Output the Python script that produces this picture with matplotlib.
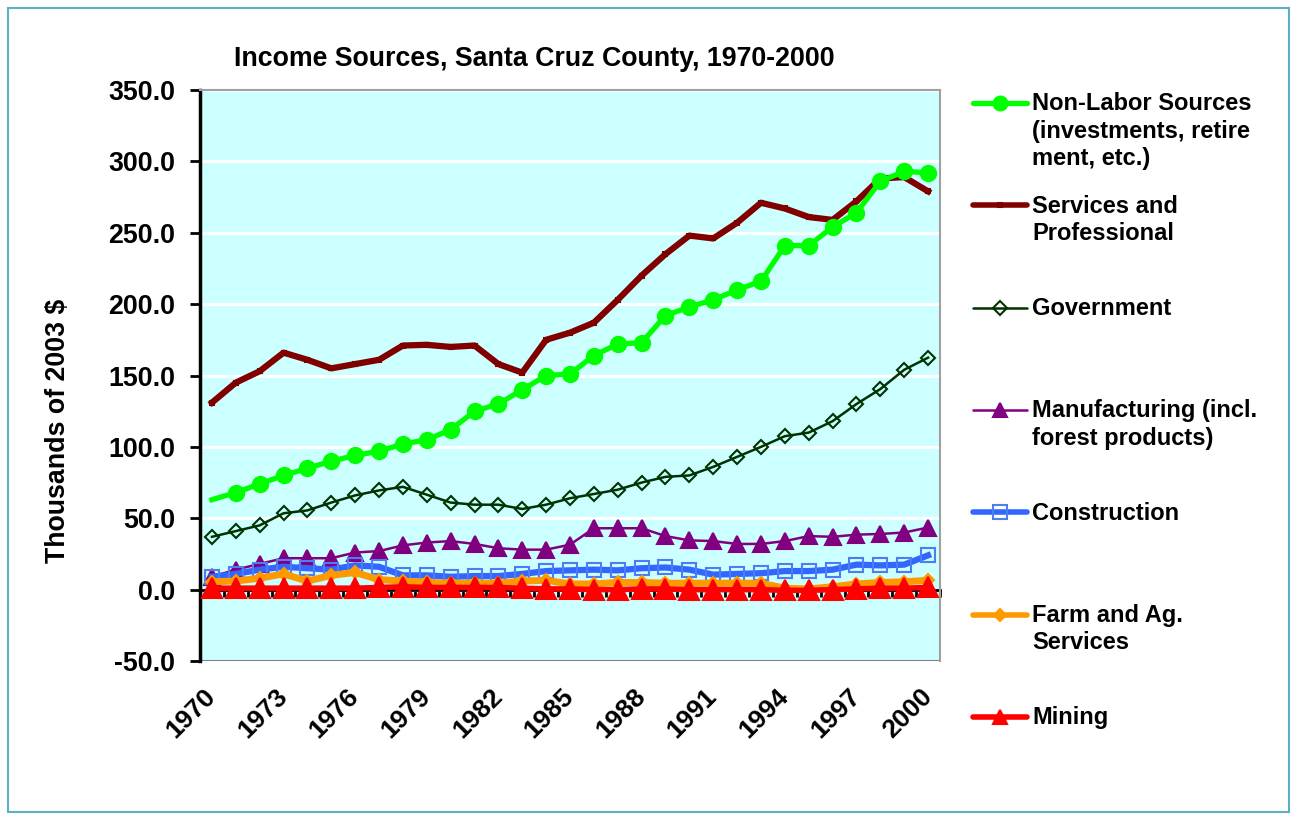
import matplotlib
matplotlib.use("Agg")
import matplotlib.pyplot as plt
from matplotlib.lines import Line2D
from matplotlib.patches import Rectangle
import numpy as np

plt.rcParams['font.family'] = ['Liberation Sans', 'DejaVu Sans']
plt.rcParams['font.weight'] = 'bold'
plt.rcParams['axes.labelweight'] = 'bold'

years = list(range(1970, 2001))
tick_years = [str(y) for y in range(1970, 2001, 3)]

non_labor = [63, 68, 74, 80, 85, 90, 94, 97, 102, 105, 112, 125, 130, 140, 150, 151,
             164, 172, 173, 192, 198, 203, 210, 216, 241, 241, 254, 264, 286, 293, 292]
services = [131, 145, 153, 166, 161, 155, 158, 161, 171, 171.5, 170, 171, 158, 152, 175, 180,
            187, 203, 220, 235, 248, 246, 257, 271, 267, 261, 259, 272, 288, 289, 279]
government = [37, 41, 45, 53.5, 55.5, 61, 66, 69.5, 72, 66.5, 61, 59.5, 59.5, 56.5, 59.5, 64,
              67, 70, 75, 79, 80, 86, 93, 100, 107.5, 110, 118, 130, 140.5, 154, 162.5]
manufacturing = [9, 14, 18, 22, 22, 22, 26, 27, 31, 33, 34, 32, 29, 28, 28, 31.5,
                 43, 43, 43, 37.5, 34.5, 34, 32, 32, 34, 37.5, 37, 38.5, 39, 40, 43.5]
construction = [9, 11, 14, 16, 15, 14, 17, 16, 10, 10, 9, 9.5, 9.5, 11, 13, 13.5,
                14, 13.5, 15, 15.5, 14, 10.5, 11, 11.5, 13, 13, 14, 17.5, 17, 17.5, 24]
farm = [5.5, 6, 8, 11, 6, 10, 12, 7, 6, 5, 4.5, 4.5, 4.5, 6, 6.5, 4,
        4, 5, 5, 4.5, 4.5, 4.5, 4.5, 4.5, 1, 0.5, 2, 4, 5, 5.5, 6.5]
mining = [1, 1, 1, 1, 1, 1, 1, 1.5, 2, 1.5, 1.5, 1.5, 1.5, 1, 0.5, 0.5,
          0, 0, 0.5, 0.5, 0, 0, 0, 0, -0.5, -0.5, 0, 0.5, 1, 1, 1.5]

W, H = 1297, 817
fig = plt.figure(figsize=(W / 100, H / 100), dpi=100)
fig.patch.set_facecolor('white')

# outer border
fig.add_artist(Rectangle((8 / W, 1 - 812 / H), (1289 - 8) / W, (812 - 8) / H,
                         transform=fig.transFigure, fill=False,
                         edgecolor='#5BB0C8', linewidth=1.5))

L, R, T, B = 200, 940, 90, 661
ax = fig.add_axes([L / W, 1 - B / H, (R - L) / W, (B - T) / H])
ax.set_facecolor('#CCFFFF')

x = np.arange(len(years))

series = [
    dict(y=services, color='#800000', lw=4.5, marker='s', ms=3, mfc='#800000', mec='#800000', z=2,
         label='Services and\nProfessional'),
    dict(y=non_labor, color='#00FF00', lw=3.8, marker='o', ms=11, mfc='#00FF00', mec='#00FF00', z=3,
         label='Non-Labor Sources\n(investments, retire\nment, etc.)'),
    dict(y=government, color='#003300', lw=1.8, marker='D', ms=7, mfc='none', mec='#003300', z=3,
         label='Government'),
    dict(y=manufacturing, color='#800080', lw=1.8, marker='^', ms=11, mfc='#800080', mec='#800080', z=4,
         label='Manufacturing (incl.\nforest products)'),
    dict(y=construction, color='#3366FF', lw=4.5, marker='s', ms=10, mfc='none', mec='#4D7DF5', z=5,
         label='Construction'),
    dict(y=farm, color='#FF9900', lw=5, marker='D', ms=6, mfc='#FF9900', mec='#FF9900', z=6,
         label='Farm and Ag.\nServices'),
    dict(y=mining, color='#FF0000', lw=4, marker='^', ms=14, mfc='#FF0000', mec='#FF0000', z=7,
         label='Mining'),
]

for s in series:
    kw = {}
    if s['y'] is non_labor:
        kw['markevery'] = list(range(1, len(years)))
    ax.plot(x, s['y'], color=s['color'], lw=s['lw'], marker=s['marker'], ms=s['ms'],
            mfc=s['mfc'], mec=s['mec'], mew=1.5, zorder=s['z'], solid_joinstyle='round', **kw)

ax.set_xlim(-0.5, len(years) - 0.5)
ax.set_ylim(-50, 350)
ax.set_yticks(np.arange(-50, 351, 50))
ax.set_yticklabels([f"{v:.1f}" for v in np.arange(-50, 351, 50)], fontweight='bold')
ax.yaxis.grid(True, color='white', lw=2.2, zorder=1)
ax.set_axisbelow(True)
ax.tick_params(axis='y', direction='out', length=7, width=2, color='black',
               labelsize=19.3, pad=11)

# category axis at zero with ticks between categories
ax.spines['bottom'].set_position(('data', 0))
ax.spines['bottom'].set_color('black')
ax.spines['bottom'].set_linewidth(2)
ax.spines['bottom'].set_zorder(1.5)
ax.set_xticks(np.arange(-0.5, len(years), 1.0))
ax.tick_params(axis='x', direction='out', length=5, width=2, color='black',
               labelbottom=False)
ax.spines['left'].set_linewidth(2.5)
for sp in ['top', 'right']:
    ax.spines[sp].set_color('#A0A0A0')
    ax.spines[sp].set_linewidth(1.5)

# bottom frame line at -50
ax.axhline(-50, color='#808080', lw=1.5, zorder=1)

sec = ax.secondary_xaxis('bottom')
sec.set_xticks(x[::3])
sec.set_xticklabels(tick_years, rotation=45, ha='right', va='center', rotation_mode='anchor',
                    fontsize=19, fontweight='bold')
sec.tick_params(length=0, pad=23)
sec.spines['bottom'].set_visible(False)

fig.text(58 / W, 1 - 431 / H, 'Thousands of 2003 $', rotation=90, ha='center', va='center',
         fontsize=19.3, fontweight='bold')

fig.text(534 / W, 1 - 59 / H, 'Income Sources, Santa Cruz County, 1970-2000',
         ha='center', va='center', fontsize=19.3, fontweight='bold')

# legend (manual, Excel-like spacing)
legend_order = [1, 0, 2, 3, 4, 5, 6]
y0, dy = 103, 102.3
for i, idx in enumerate(legend_order):
    s = series[idx]
    yy = 1 - (y0 + i * dy) / H
    fig.add_artist(Line2D([973 / W, 1027 / W], [yy, yy], transform=fig.transFigure,
                          color=s['color'], lw=min(s['lw'], 4), solid_capstyle='round'))
    fig.add_artist(Line2D([1000 / W], [yy], transform=fig.transFigure, color=s['color'],
                          marker=s['marker'], ms=min(s['ms'], 10), mfc=s['mfc'], mec=s['mec'],
                          mew=1.5, linestyle='none'))
    fig.text(1032 / W, yy + 10.5 / H, s['label'], ha='left', va='top', fontsize=17,
             fontweight='bold', linespacing=1.23)

fig.savefig('out.png', dpi=100)
